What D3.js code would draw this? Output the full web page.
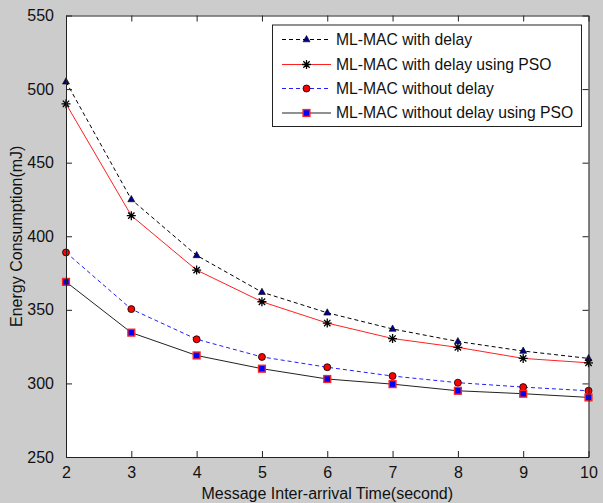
<!DOCTYPE html>
<html>
<head>
<meta charset="utf-8">
<script src="https://cdn.jsdelivr.net/npm/d3@7"></script>
<style>
  html, body { margin: 0; padding: 0; background: #cccccc; }
  svg { display: block; font-family: "Liberation Sans", Arial, sans-serif; }
</style>
</head>
<body>
<svg id="chart" width="603" height="503"></svg>
<script>
// data
const xValues = [2, 3, 4, 5, 6, 7, 8, 9, 10]
const withDelay = [505, 425, 387, 362, 348, 337, 328.5, 322, 317]
const withDelayPSO = [490, 414, 377, 355.5, 341, 330.5, 324.5, 317, 314]
const withoutDelay = [389, 350.5, 330, 318, 311, 305, 300.5, 297.5, 295]
const withoutDelayPSO = [369, 334.5, 319, 310, 303, 299.5, 295, 293, 290.5]
const seriesNames = ["ML-MAC with delay", "ML-MAC with delay using PSO",
                     "ML-MAC without delay", "ML-MAC without delay using PSO"]
const xTicks = [2, 3, 4, 5, 6, 7, 8, 9, 10]
const yTicks = [250, 300, 350, 400, 450, 500, 550]

const plot = {left: 66, right: 588.5, top: 15.5, bottom: 457}

const svg = d3.select("#chart")

const x = d3.scaleLinear().domain([2, 10]).range([plot.left, plot.right])
const y = d3.scaleLinear().domain([250, 550]).range([plot.bottom, plot.top])

// white axes area
svg.append("rect")
	.attr("x", plot.left).attr("y", plot.top)
	.attr("width", plot.right - plot.left).attr("height", plot.bottom - plot.top)
	.attr("fill", "white")

// marker shapes
function starPath(r){
	let p = ""
	for (let i = 0; i < 4; i++){
		let a = i * Math.PI / 4
		let dx = r * Math.cos(a), dy = r * Math.sin(a)
		p += "M" + (-dx) + "," + (-dy) + "L" + dx + "," + dy
	}
	return p
}
const styles = [
	{data: withDelay, line: "#000", dash: "4,3", marker: "triangle", fill: "#00008b", stroke: "#000"},
	{data: withDelayPSO, line: "#ff2020", dash: null, marker: "star", fill: "none", stroke: "#000"},
	{data: withoutDelay, line: "#1f1fff", dash: "4,3", marker: "circle", fill: "#ff0000", stroke: "#000"},
	{data: withoutDelayPSO, line: "#222", dash: null, marker: "square", fill: "#0000ff", stroke: "#ff2020"}
]

function drawMarker(g, kind, s){
	if (kind === "triangle"){
		g.append("path").attr("d", "M0,-4L3.5,2.3L-3.5,2.3Z")
			.attr("fill", s.fill).attr("stroke", s.stroke).attr("stroke-width", 0.6)
	} else if (kind === "star"){
		g.append("path").attr("d", starPath(4.5))
			.attr("stroke", s.stroke).attr("stroke-width", 1.3).attr("fill", "none")
	} else if (kind === "circle"){
		g.append("circle").attr("r", 3.5)
			.attr("fill", s.fill).attr("stroke", s.stroke).attr("stroke-width", 0.8)
	} else {
		g.append("rect").attr("x", -3.4).attr("y", -3.4).attr("width", 6.8).attr("height", 6.8)
			.attr("fill", s.fill).attr("stroke", s.stroke).attr("stroke-width", 1.4)
	}
}

const line = d3.line().x((d, i) => x(xValues[i])).y(d => y(d))

styles.forEach(function(s){
	svg.append("path")
		.attr("d", line(s.data))
		.attr("fill", "none")
		.attr("stroke", s.line)
		.attr("stroke-width", 1)
		.attr("stroke-dasharray", s.dash)
})
styles.forEach(function(s){
	s.data.forEach(function(v, i){
		let g = svg.append("g").attr("transform", "translate(" + x(xValues[i]) + "," + y(v) + ")")
		drawMarker(g, s.marker, s)
	})
})

// axes with inward ticks on all four sides
const tickLen = 6
const axisColor = "#222"
const fontSize = 16

const bottomAxis = svg.append("g").attr("transform", "translate(0," + plot.bottom + ")")
	.call(d3.axisBottom(x).tickValues(xTicks).tickSizeInner(-tickLen).tickSizeOuter(0).tickPadding(10))
const topAxis = svg.append("g").attr("transform", "translate(0," + plot.top + ")")
	.call(d3.axisTop(x).tickValues(xTicks).tickSizeInner(-tickLen).tickSizeOuter(0).tickFormat(""))
const leftAxis = svg.append("g").attr("transform", "translate(" + plot.left + ",0)")
	.call(d3.axisLeft(y).tickValues(yTicks).tickSizeInner(-tickLen).tickSizeOuter(0).tickPadding(12))
const rightAxis = svg.append("g").attr("transform", "translate(" + plot.right + ",0)")
	.call(d3.axisRight(y).tickValues(yTicks).tickSizeInner(-tickLen).tickSizeOuter(0).tickFormat(""))

;[bottomAxis, topAxis, leftAxis, rightAxis].forEach(function(a){
	a.selectAll("path, line").attr("stroke", axisColor).attr("stroke-width", 1)
	a.selectAll("text").attr("fill", "#111").style("font-size", fontSize + "px")
		.style("font-family", "'Liberation Sans', Arial, sans-serif")
})
bottomAxis.selectAll("text").attr("dy", "0.71em")

// axis titles
svg.append("text")
	.attr("x", (plot.left + plot.right) / 2).attr("y", 499)
	.attr("text-anchor", "middle").attr("fill", "#111")
	.style("font-size", fontSize + "px")
	.text("Message Inter-arrival Time(second)")
svg.append("text")
	.attr("transform", "translate(22," + (plot.top + plot.bottom) / 2 + ") rotate(-90)")
	.attr("text-anchor", "middle").attr("fill", "#111")
	.style("font-size", fontSize + "px")
	.text("Energy Consumption(mJ)")

// legend
const legend = svg.append("g")
legend.append("rect")
	.attr("x", 272.5).attr("y", 25).attr("width", 309).attr("height", 101.5)
	.attr("fill", "white").attr("stroke", "#222").attr("stroke-width", 1)
const rowY = [39.5, 64.5, 88.5, 113]
styles.forEach(function(s, i){
	legend.append("line")
		.attr("x1", 282).attr("x2", 331).attr("y1", rowY[i]).attr("y2", rowY[i])
		.attr("stroke", s.line).attr("stroke-width", 1).attr("stroke-dasharray", s.dash)
	let g = legend.append("g").attr("transform", "translate(306.5," + rowY[i] + ")")
	drawMarker(g, s.marker, s)
	legend.append("text")
		.attr("x", 336).attr("y", rowY[i]).attr("dy", "0.35em")
		.attr("fill", "#111").style("font-size", "15.7px")
		.text(seriesNames[i])
})
</script>
</body>
</html>
